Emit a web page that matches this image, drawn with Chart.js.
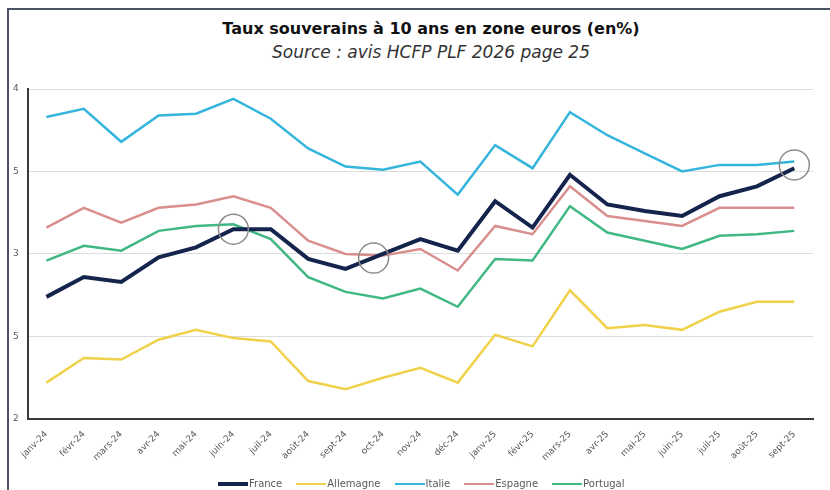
<!DOCTYPE html>
<html>
<head>
<meta charset="utf-8">
<script src="https://cdn.jsdelivr.net/npm/chart.js@4"></script>
<style>
  body { margin:0; width:830px; height:490px; background:#fff; position:relative; overflow:hidden; font-family:"DejaVu Sans", sans-serif; }
  #frame { position:absolute; left:7px; top:8px; width:830px; height:490px; border-top:2px solid #4a5263; border-left:2px solid #4a5263; }
  #title { position:absolute; left:0; width:862px; top:19px; text-align:center; font-weight:bold; font-size:16px; color:#111; }
  #subtitle { position:absolute; left:0; width:862px; top:42px; text-align:center; font-style:italic; font-size:17px; color:#333; }
  #wrap { position:absolute; left:0; top:0; width:830px; height:490px; }
  #legend { position:absolute; left:218px; top:478px; display:flex; font-size:10px; color:#595959; }
  #legend span.item { display:flex; align-items:center; margin-right:14px; }
  #legend span.line { display:inline-block; width:30px; margin-right:1px; }
</style>
</head>
<body>
<div id="frame"></div>
<div id="title">Taux souverains à 10 ans en zone euros (en%)</div>
<div id="subtitle">Source : avis HCFP PLF 2026 page 25</div>
<div id="wrap"><canvas id="chart" width="830" height="490"></canvas></div>
<div id="legend"></div>
<script>
// categories
const months = ["janv-24","févr-24","mars-24","avr-24","mai-24","juin-24","juil-24","août-24","sept-24","oct-24","nov-24","déc-24",
                "janv-25","févr-25","mars-25","avr-25","mai-25","juin-25","juil-25","août-25","sept-25"];

// series (%)
const france    = [2.74,2.86,2.83,2.98,3.04,3.15,3.15,2.97,2.91,3.00,3.09,3.02,3.32,3.16,3.48,3.30,3.26,3.23,3.35,3.41,3.52];
const allemagne = [2.22,2.37,2.36,2.48,2.54,2.49,2.47,2.23,2.18,2.25,2.31,2.22,2.51,2.44,2.78,2.55,2.57,2.54,2.65,2.71,2.71];
const italie    = [3.83,3.88,3.68,3.84,3.85,3.94,3.82,3.64,3.53,3.51,3.56,3.36,3.66,3.52,3.86,3.72,3.61,3.50,3.54,3.54,3.56];
const espagne   = [3.16,3.28,3.19,3.28,3.30,3.35,3.28,3.08,3.00,2.99,3.03,2.90,3.17,3.12,3.41,3.23,3.20,3.17,3.28,3.28,3.28];
const portugal  = [2.96,3.05,3.02,3.14,3.17,3.18,3.09,2.86,2.77,2.73,2.79,2.68,2.97,2.96,3.29,3.13,3.08,3.03,3.11,3.12,3.14];

// y ticks as printed on the picture
const yTickValues = [2, 2.5, 3, 3.5, 4];
const yTickLabels = ["2", "5", "3", "5", "4"];

// highlighted points (category index, value)
const circleX = [5, 8.75, 20];
const circleY = [3.15, 2.975, 3.54];

const series = [
  { name:"France",    data:france,    color:"#15244d", width:4 },
  { name:"Allemagne", data:allemagne, color:"#f0d24a", width:2.5 },
  { name:"Italie",    data:italie,    color:"#36b5dc", width:2.5 },
  { name:"Espagne",   data:espagne,   color:"#d98f8d", width:2.5 },
  { name:"Portugal",  data:portugal,  color:"#3fb883", width:2.5 }
];

// circles plugin
const circlesPlugin = {
  id:"circles",
  afterDatasetsDraw(chart){
    const ctx = chart.ctx;
    ctx.save();
    ctx.strokeStyle = "#8c8c8c";
    ctx.lineWidth = 1.5;
    for(let i=0;i<circleX.length;i++){
      const px = chart.scales.x.getPixelForValue(circleX[i]);
      const py = chart.scales.y.getPixelForValue(circleY[i]);
      ctx.beginPath();
      ctx.arc(px, py, 15, 0, Math.PI*2);
      ctx.stroke();
    }
    ctx.restore();
  }
};

new Chart(document.getElementById("chart"), {
  type:"line",
  data:{
    labels:months,
    datasets:series.map(s => ({
      label:s.name,
      data:s.data,
      borderColor:s.color,
      backgroundColor:s.color,
      borderWidth:s.width,
      pointRadius:0,
      tension:0,
      fill:false
    }))
  },
  options:{
    responsive:false,
    animation:false,
    layout:{ padding:{ top:89, left:4, right:17, bottom:25 } },
    plugins:{
      legend:{ display:false },
      tooltip:{ enabled:false }
    },
    scales:{
      x:{
        offset:true,
        grid:{ display:false },
        border:{ color:"#3a3a3a", width:2 },
        ticks:{ color:"#595959", font:{ family:"DejaVu Sans", size:9 }, minRotation:45, maxRotation:45, padding:2 }
      },
      y:{
        min:2, max:4,
        afterBuildTicks(axis){ axis.ticks = yTickValues.map(v => ({ value:v })); },
        grid:{ color:"#dcdcdc", lineWidth:1, drawTicks:false },
        border:{ color:"#3a3a3a", width:2 },
        ticks:{
          color:"#595959", font:{ family:"DejaVu Sans", size:9 }, padding:9,
          callback:(v) => { const k = yTickValues.indexOf(v); return k >= 0 ? yTickLabels[k] : ""; }
        }
      }
    }
  },
  plugins:[circlesPlugin]
});

// legend
const legend = document.getElementById("legend");
series.forEach(s => {
  const item = document.createElement("span");
  item.className = "item";
  const line = document.createElement("span");
  line.className = "line";
  line.style.borderTop = (s.width >= 4 ? 4 : 2) + "px solid " + s.color;
  item.appendChild(line);
  item.appendChild(document.createTextNode(s.name));
  legend.appendChild(item);
});
</script>
</body>
</html>
